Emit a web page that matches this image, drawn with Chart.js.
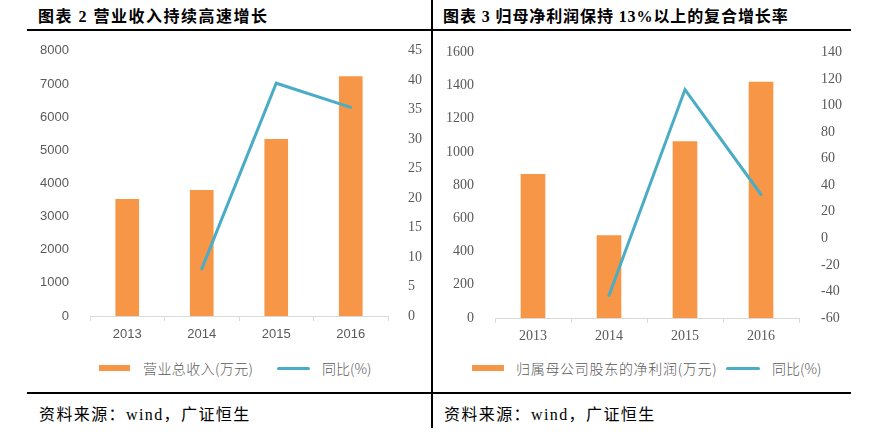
<!DOCTYPE html>
<html>
<head>
<meta charset="utf-8">
<script src="https://cdn.jsdelivr.net/npm/chart.js@4/dist/chart.umd.min.js"></script>
<style>
  html, body { margin: 0; padding: 0; background: #fff; }
  #page { position: relative; width: 874px; height: 440px; background: #fff; overflow: hidden; }
  .abs { position: absolute; }
  .title { font-family: "Liberation Serif", "Noto Sans CJK SC", serif; font-weight: bold; font-size: 16px; color: #000; white-space: nowrap; line-height: 20px; }
  .src { font-family: "Liberation Serif", "Noto Sans CJK SC", serif; font-size: 16px; color: #000; white-space: nowrap; line-height: 20px; letter-spacing: 1.4px; }
  .hline { background: #000; height: 2px; }
  .vline { background: #000; width: 2px; }
  .leg { font-family: "Noto Sans CJK SC", sans-serif; font-size: 14px; color: #595959; white-space: nowrap; line-height: 18px; font-weight: 300; }
  .swbar { background: #F79646; height: 6px; }
  .swline { background: #4BACC6; height: 3px; border-radius: 2px; }
  canvas { position: absolute; }
</style>
</head>
<body>
<div id="page">
  <div class="abs title" style="left:38px; top:7px; letter-spacing:1.5px;">图表 2 营业收入持续高速增长</div>
  <div class="abs title" style="left:443px; top:7px; letter-spacing:0.9px;">图表 3 归母净利润保持 13%以上的复合增长率</div>
  <div class="abs hline" style="left:27px; top:29px; width:824px;"></div>
  <div class="abs hline" style="left:27px; top:392px; width:824px;"></div>
  <div class="abs vline" style="left:431px; top:0px; height:428px;"></div>

  <div class="abs" style="left:0; top:30px; width:431px; height:320px;"><canvas id="c1" width="431" height="320"></canvas></div>
  <div class="abs" style="left:437px; top:30px; width:437px; height:320px;"><canvas id="c2" width="437" height="320"></canvas></div>

  <div class="abs swbar" style="left:99px; top:365px; width:31px;"></div>
  <div class="abs leg" id="leg1a" style="left:143px; top:359px; letter-spacing:0.4px;"></div>
  <div class="abs swline" style="left:277px; top:367px; width:33px;"></div>
  <div class="abs leg" id="leg1b" style="left:322px; top:359px;"></div>

  <div class="abs swbar" style="left:472px; top:365px; width:32px;"></div>
  <div class="abs leg" id="leg2a" style="left:516px; top:359px; letter-spacing:0.7px;"></div>
  <div class="abs swline" style="left:726px; top:367px; width:34px;"></div>
  <div class="abs leg" id="leg2b" style="left:772px; top:359px;"></div>

  <div class="abs src" style="left:39px; top:405px;">资料来源：wind，广证恒生</div>
  <div class="abs src" style="left:444px; top:405px;">资料来源：wind，广证恒生</div>
</div>
<script>
// ---- data ----
const years = ["2013", "2014", "2015", "2016"];
const revenue = [3520, 3790, 5330, 7220];          // 营业总收入(万元)
const revenueYoY = [null, 8.0, 39.5, 35.4];         // 同比(%)
const netProfit = [866, 496, 1063, 1421];           // 归属母公司股东的净利润(万元)
const netProfitYoY = [null, -43, 112, 33];          // 同比(%)
const revenueLabel = "营业总收入(万元)";
const netProfitLabel = "归属母公司股东的净利润(万元)";
const yoyLabel = "同比(%)";

document.getElementById('leg1a').textContent = revenueLabel;
document.getElementById('leg1b').textContent = yoyLabel;
document.getElementById('leg2a').textContent = netProfitLabel;
document.getElementById('leg2b').textContent = yoyLabel;

const ORANGE = '#F79646';
const TEAL = '#4BACC6';
const GRAY = '#595959';
const AXIS = '#D9D9D9';

function fixW(w) { return function (s) { s.width = w; }; }
function fixH(h) { return function (s) { s.height = h; }; }
const plain = function (v) { return String(v); };

function makeChart(id, cfg) {
  const sans = { family: '"Liberation Sans", Arial, sans-serif', size: 13 };
  const serif = { family: '"Liberation Serif", "Times New Roman", serif', size: 14 };
  return new Chart(document.getElementById(id), {
    type: 'bar',
    data: {
      labels: years,
      datasets: [
        { type: 'line', label: yoyLabel, data: cfg.yoy, yAxisID: 'y1', borderColor: TEAL, backgroundColor: TEAL,
          borderWidth: 3, pointRadius: 0, pointHoverRadius: 0, tension: 0, order: 0, borderCapStyle: 'round', borderJoinStyle: 'miter', spanGaps: false },
        { type: 'bar', label: cfg.barLabel, data: cfg.bars, yAxisID: 'y', backgroundColor: ORANGE, borderWidth: 0,
          barThickness: cfg.barW, order: 1 }
      ]
    },
    options: {
      responsive: false,
      animation: false,
      events: [],
      layout: { padding: { top: 10, left: 0, right: 0, bottom: 0 } },
      plugins: { legend: { display: false }, tooltip: { enabled: false } },
      scales: {
        x: {
          offset: true,
          grid: { display: true, drawOnChartArea: false, drawTicks: true, tickLength: 5, color: AXIS, offset: true },
          border: { display: true, color: AXIS, width: 1 },
          ticks: { color: GRAY, font: cfg.xFont === 'sans' ? sans : serif, padding: cfg.xPad, maxRotation: 0 },
          afterFit: fixH(cfg.xH)
        },
        y: {
          position: 'left',
          min: cfg.yMin, max: cfg.yMax,
          ticks: { stepSize: cfg.yStep, color: GRAY, font: cfg.yFont === 'sans' ? sans : serif, padding: cfg.yPad, callback: plain },
          grid: { display: false },
          border: { display: false },
          afterFit: fixW(cfg.yW)
        },
        y1: {
          position: 'right',
          min: cfg.y1Min, max: cfg.y1Max,
          ticks: { stepSize: cfg.y1Step, color: GRAY, font: serif, padding: cfg.y1Pad, callback: plain },
          grid: { display: false },
          border: { display: false },
          afterFit: fixW(cfg.y1W)
        }
      }
    }
  });
}

makeChart('c1', {
  bars: revenue, yoy: revenueYoY, barLabel: revenueLabel, barW: 23,
  xFont: 'sans', xPad: 6, xH: 34,
  yMin: 0, yMax: 8000, yStep: 1000, yFont: 'sans', yPad: 13, yW: 90,
  y1Min: 0, y1Max: 45, y1Step: 5, y1Pad: 12, y1W: 43
});

makeChart('c2', {
  bars: netProfit, yoy: netProfitYoY, barLabel: netProfitLabel, barW: 24,
  xFont: 'serif', xPad: 5, xH: 32,
  yMin: 0, yMax: 1600, yStep: 200, yFont: 'serif', yPad: 13, yW: 58,
  y1Min: -60, y1Max: 140, y1Step: 20, y1Pad: 14, y1W: 75
});
</script>
</body>
</html>
